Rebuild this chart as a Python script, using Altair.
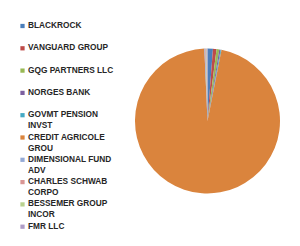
import altair as alt
import pandas as pd

labels = [
    "BLACKROCK",
    "VANGUARD GROUP",
    "GQG PARTNERS LLC",
    "NORGES BANK",
    "GOVMT PENSION\nINVST",
    "CREDIT AGRICOLE\nGROU",
    "DIMENSIONAL FUND\nADV",
    "CHARLES SCHWAB\nCORPO",
    "BESSEMER GROUP\nINCOR",
    "FMR LLC",
]
values = [1.2, 0.8, 0.6, 0.3, 0.2, 96.2, 0.2, 0.15, 0.15, 0.2]
colors = ["#4A7EBB", "#BE4B48", "#98B954", "#7D60A0", "#46AAC5",
          "#DA843D", "#94AAD6", "#D99694", "#B9D18F", "#AE9CC6"]

df = pd.DataFrame({
    "idx": list(range(len(labels))),
    "name": labels,
    "value": values,
})
df["line1"] = df["name"].str.split("\n").str[0]
df["line2"] = df["name"].str.split("\n").str[1].fillna("")

color_scale = alt.Scale(domain=labels, range=colors)

pie = alt.Chart(df).mark_arc(radius=72.5, stroke=None).encode(
    theta=alt.Theta("value:Q", stack=True),
    order=alt.Order("idx:Q"),
    color=alt.Color("name:N", scale=color_scale, legend=None),
    x=alt.value(199.5),
    y=alt.value(113),
)

yscale = alt.Scale(domain=[0, 9], range=[18, 218.7])

sym = alt.Chart(df).mark_square(size=18, opacity=1).encode(
    x=alt.value(14.5),
    y=alt.Y("idx:Q", scale=yscale, axis=None),
    color=alt.Color("name:N", scale=color_scale, legend=None),
)

font = "Liberation Sans"
t1 = alt.Chart(df).mark_text(align="left", baseline="middle", font=font,
                             fontSize=8.3, fontWeight="bold", color="#262626").encode(
    x=alt.value(20),
    y=alt.Y("idx:Q", scale=yscale, axis=None),
    text="line1:N",
)
t2 = alt.Chart(df).mark_text(align="left", baseline="middle", font=font, dy=11,
                             fontSize=8.3, fontWeight="bold", color="#262626").encode(
    x=alt.value(20),
    y=alt.Y("idx:Q", scale=yscale, axis=None),
    text="line2:N",
)

chart = alt.layer(pie, sym, t1, t2).properties(
    width=284, height=230, padding=0
).configure_view(stroke=None)

chart.save("out.html", embed_options={"renderer": "svg", "actions": False})
